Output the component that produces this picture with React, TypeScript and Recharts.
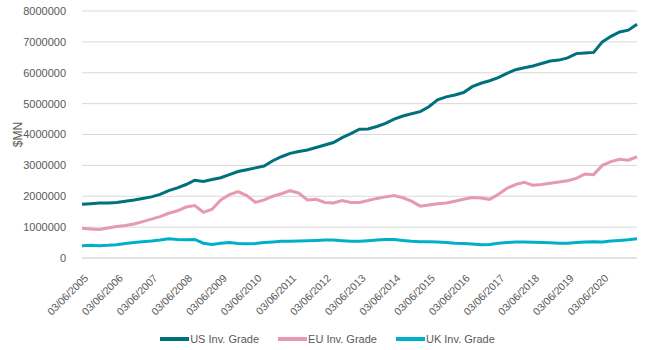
import React from 'react';
import { LineChart, Line, XAxis, YAxis, CartesianGrid, Legend } from 'recharts';

const dates: string[] = [];
const years = [2005, 2006, 2007, 2008, 2009, 2010, 2011, 2012, 2013, 2014, 2015, 2016, 2017, 2018, 2019, 2020, 2021];
const quarterMonths = ['06', '09', '12', '03'];
years.forEach((y) => {
  quarterMonths.forEach((m) => {
    const yr = m === '03' ? y + 1 : y;
    if (dates.length < 65) dates.push(`03/${m}/${yr}`);
  });
});

const usValues = [
  1.74, 1.76, 1.78, 1.78, 1.80, 1.84, 1.88, 1.93, 1.98, 2.06, 2.18, 2.27, 2.38, 2.52, 2.48, 2.54,
  2.60, 2.70, 2.80, 2.86, 2.92, 2.98, 3.15, 3.28, 3.39, 3.45, 3.50, 3.58, 3.66, 3.74, 3.90, 4.03,
  4.17, 4.18, 4.26, 4.36, 4.50, 4.60, 4.67, 4.74, 4.90, 5.12, 5.22, 5.28, 5.36, 5.55, 5.66, 5.74,
  5.84, 5.98, 6.10, 6.16, 6.22, 6.30, 6.38, 6.41, 6.48, 6.62, 6.64, 6.66, 7.00, 7.18, 7.32, 7.38,
  7.57,
];
const euValues = [
  0.96, 0.94, 0.92, 0.97, 1.02, 1.05, 1.10, 1.18, 1.26, 1.34, 1.45, 1.53, 1.65, 1.70, 1.48, 1.58,
  1.88, 2.05, 2.15, 2.02, 1.80, 1.88, 2.00, 2.08, 2.18, 2.10, 1.88, 1.90, 1.80, 1.78, 1.86, 1.80,
  1.80, 1.86, 1.93, 1.98, 2.02, 1.95, 1.84, 1.68, 1.72, 1.76, 1.78, 1.84, 1.90, 1.96, 1.94, 1.90,
  2.06, 2.26, 2.38, 2.45, 2.36, 2.38, 2.42, 2.46, 2.50, 2.58, 2.72, 2.70, 3.00, 3.12, 3.20, 3.17,
  3.28,
];
const ukValues = [
  0.40, 0.41, 0.40, 0.41, 0.43, 0.47, 0.50, 0.53, 0.55, 0.58, 0.62, 0.60, 0.59, 0.60, 0.48, 0.44,
  0.48, 0.50, 0.47, 0.46, 0.47, 0.50, 0.52, 0.54, 0.54, 0.55, 0.56, 0.57, 0.58, 0.58, 0.56, 0.54,
  0.54, 0.56, 0.58, 0.60, 0.60, 0.57, 0.54, 0.53, 0.53, 0.52, 0.50, 0.48, 0.47, 0.45, 0.43, 0.44,
  0.48, 0.50, 0.52, 0.52, 0.51, 0.50, 0.49, 0.48, 0.48, 0.50, 0.52, 0.53, 0.52, 0.55, 0.57, 0.59,
  0.62,
];

const yTicks = [0, 1000000, 2000000, 3000000, 4000000, 5000000, 6000000, 7000000, 8000000];

const seriesNames = ['US Inv. Grade', 'EU Inv. Grade', 'UK Inv. Grade'];
const seriesColors = ['#00717C', '#E59AB0', '#00AFC9'];

const data = dates.map((d, i) => ({
  i,
  date: d,
  us: usValues[i] * 1000000,
  eu: euValues[i] * 1000000,
  uk: ukValues[i] * 1000000,
}));

const xTicks = dates.map((d, i) => (d.startsWith('03/06/') && i < 64 ? i : -1)).filter((i) => i >= 0);

const FONT = 'Liberation Sans, Arial, sans-serif';
const TEXT = '#595959';

const XTick = (props: any) => {
  const { x, y, payload } = props;
  return (
    <g transform={`translate(${x + 4},${y + 10})`}>
      <text x={0} y={0} dy={4} textAnchor="end" transform="rotate(-45)" fill={TEXT} fontSize={10.5} fontFamily={FONT}>
        {dates[payload.value]}
      </text>
    </g>
  );
};

const LegendContent = () => (
  <div
    style={{
      display: 'flex',
      justifyContent: 'center',
      alignItems: 'center',
      height: 22,
      fontFamily: FONT,
      fontSize: 11,
      color: TEXT,
    }}
  >
    {seriesNames.map((n, k) => (
      <div key={n} style={{ display: 'flex', alignItems: 'center', marginLeft: k === 0 ? 0 : 19 }}>
        <div style={{ width: 29, height: 4, background: seriesColors[k] }} />
        <span style={{ marginLeft: 1 }}>{n}</span>
      </div>
    ))}
  </div>
);

export default function App() {
  return (
    <div style={{ position: 'absolute', left: 0, top: 0, width: 655, height: 350, background: '#fff' }}>
      <LineChart width={655} height={350} data={data} margin={{ top: 11, right: 18, left: 0, bottom: 0 }}>
        <CartesianGrid vertical={false} stroke="#D9D9D9" strokeWidth={1} />
        <XAxis
          dataKey="i"
          type="number"
          domain={[0, 64]}
          ticks={xTicks}
          interval={0}
          height={70}
          tick={<XTick />}
          tickLine={false}
          axisLine={{ stroke: '#D9D9D9' }}
        />
        <YAxis
          width={82}
          domain={[0, 8000000]}
          ticks={yTicks}
          interval={0}
          tickLine={false}
          axisLine={false}
          tickMargin={10}
          tick={{ fill: TEXT, fontSize: 11, fontFamily: FONT }}
          label={{
            value: '$MN',
            angle: -90,
            position: 'insideLeft',
            offset: 18,
            style: { textAnchor: 'middle', fill: TEXT, fontSize: 12, fontFamily: FONT },
          }}
        />
        <Legend verticalAlign="bottom" height={22} content={<LegendContent />} wrapperStyle={{ left: 0, width: 655 }} />
        <Line type="linear" dataKey="us" name={seriesNames[0]} stroke={seriesColors[0]} strokeWidth={3} dot={false} isAnimationActive={false} />
        <Line type="linear" dataKey="eu" name={seriesNames[1]} stroke={seriesColors[1]} strokeWidth={3} dot={false} isAnimationActive={false} />
        <Line type="linear" dataKey="uk" name={seriesNames[2]} stroke={seriesColors[2]} strokeWidth={3} dot={false} isAnimationActive={false} />
      </LineChart>
    </div>
  );
}
